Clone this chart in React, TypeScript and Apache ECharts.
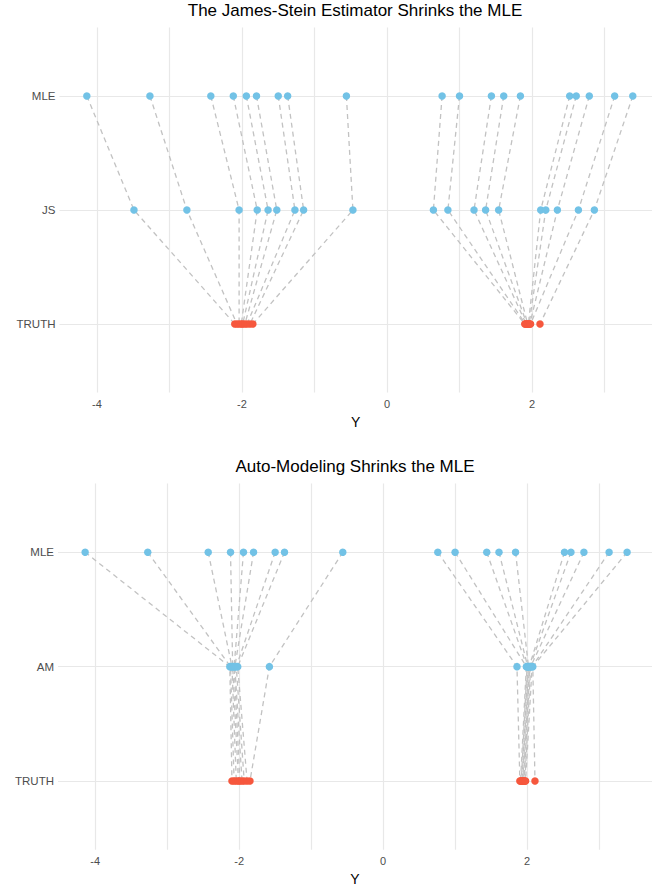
import React, { useEffect, useRef } from "react";
import * as echarts from "echarts";

const mle = [-4.14, -3.27, -2.43, -2.12, -1.94, -1.80, -1.50, -1.37, -0.56, 0.76, 1.00, 1.44, 1.61, 1.84, 2.52, 2.61, 2.79, 3.14, 3.39];
const js = [-3.49, -2.76, -2.04, -1.79, -1.64, -1.52, -1.27, -1.15, -0.47, 0.64, 0.84, 1.20, 1.36, 1.54, 2.12, 2.19, 2.35, 2.64, 2.86];
const am = [-2.13, -2.12, -2.10, -2.09, -2.07, -2.06, -2.04, -2.02, -1.58, 1.86, 1.99, 2.00, 2.01, 2.02, 2.03, 2.04, 2.05, 2.07, 2.08];
const truth = [-2.10, -2.07, -2.04, -2.01, -1.99, -1.96, -1.93, -1.89, -1.85, 1.90, 1.91, 1.92, 1.93, 1.94, 1.95, 1.96, 1.97, 1.98, 2.11];

const topRows = ["TRUTH", "JS", "MLE"];
const bottomRows = ["TRUTH", "AM", "MLE"];
const rowValues = [1, 2, 3];
const xTickLabels = [-4, -2, 0, 2];
const xGridValues = [-4, -3, -2, -1, 0, 1, 2, 3];
const titles = ["The James-Stein Estimator Shrinks the MLE", "Auto-Modeling Shrinks the MLE"];

const FONT = "'Liberation Sans', Arial, Helvetica, sans-serif";
const BLUE = "#72C2E6";
const RED = "#F6573D";
const GRID_COLOR = "#E8E8E8";
const LINE_COLOR = "#C2C2C2";

function xAxisFor(gridIndex: number, min: number, max: number, gap: number) {
  return {
    type: "value",
    gridIndex,
    min,
    max,
    name: "Y",
    nameLocation: "middle",
    nameGap: gap,
    nameTextStyle: { color: "#000", fontSize: 14, fontFamily: FONT },
    axisLine: { show: false },
    axisTick: { show: false, customValues: xGridValues },
    axisLabel: {
      customValues: xTickLabels,
      color: "#4D4D4D",
      fontSize: 11,
      fontFamily: FONT,
      margin: 6,
    },
    splitLine: { show: true, lineStyle: { color: GRID_COLOR, width: 1.2 } },
  };
}

function yAxisFor(gridIndex: number, rows: string[]) {
  return {
    type: "value",
    gridIndex,
    min: 0.4,
    max: 3.6,
    axisLine: { show: false },
    axisTick: { show: false, customValues: rowValues },
    axisLabel: {
      customValues: rowValues,
      formatter: (v: number) => rows[Math.round(v) - 1] ?? "",
      color: "#4D4D4D",
      fontSize: 11.5,
      fontFamily: FONT,
      margin: 4,
    },
    splitLine: { show: true, lineStyle: { color: GRID_COLOR, width: 1.2 } },
  };
}

function seriesFor(axisIndex: number, middle: number[]) {
  const out: any[] = [];
  for (let i = 0; i < mle.length; i++) {
    out.push({
      type: "line",
      xAxisIndex: axisIndex,
      yAxisIndex: axisIndex,
      data: [
        [mle[i], 3],
        [middle[i], 2],
        [truth[i], 1],
      ],
      symbol: "none",
      silent: true,
      z: 1,
      lineStyle: { color: LINE_COLOR, width: 1.3, type: [5, 4] },
    });
  }
  out.push({
    type: "scatter",
    xAxisIndex: axisIndex,
    yAxisIndex: axisIndex,
    symbolSize: 7.5,
    z: 3,
    itemStyle: { color: BLUE, opacity: 1 },
    data: [...mle.map((v) => [v, 3]), ...middle.map((v) => [v, 2])],
  });
  out.push({
    type: "scatter",
    xAxisIndex: axisIndex,
    yAxisIndex: axisIndex,
    symbolSize: 7.5,
    z: 3,
    itemStyle: { color: RED, opacity: 1 },
    data: truth.map((v) => [v, 1]),
  });
  return out;
}

export default function App() {
  const ref = useRef<HTMLDivElement>(null);
  useEffect(() => {
    if (!ref.current) return;
    const chart = echarts.init(ref.current, undefined, { renderer: "svg" });
    chart.setOption({
      animation: false,
      backgroundColor: "#ffffff",
      textStyle: { fontFamily: FONT },
      grid: [
        { left: 59.5, right: 0, top: 27.6, height: 364.8, containLabel: false },
        { left: 58, right: 0, top: 483.6, height: 366.1, containLabel: false },
      ],
      xAxis: [xAxisFor(0, -4.517, 3.655, 23), xAxisFor(1, -4.517, 3.736, 22)],
      yAxis: [yAxisFor(0, topRows), yAxisFor(1, bottomRows)],
      graphic: [
        {
          type: "text",
          x: 355,
          y: 10,
          style: {
            text: titles[0],
            fontSize: 17,
            fontFamily: FONT,
            fill: "#000",
            align: "center",
            verticalAlign: "middle",
          },
        },
        {
          type: "text",
          x: 355,
          y: 466,
          style: {
            text: titles[1],
            fontSize: 17,
            fontFamily: FONT,
            fill: "#000",
            align: "center",
            verticalAlign: "middle",
          },
        },
      ],
      series: [...seriesFor(0, js), ...seriesFor(1, am)],
    });
    return () => chart.dispose();
  }, []);
  return (
    <div
      ref={ref}
      style={{ position: "fixed", left: 0, top: 0, width: 652, height: 888 }}
    />
  );
}
